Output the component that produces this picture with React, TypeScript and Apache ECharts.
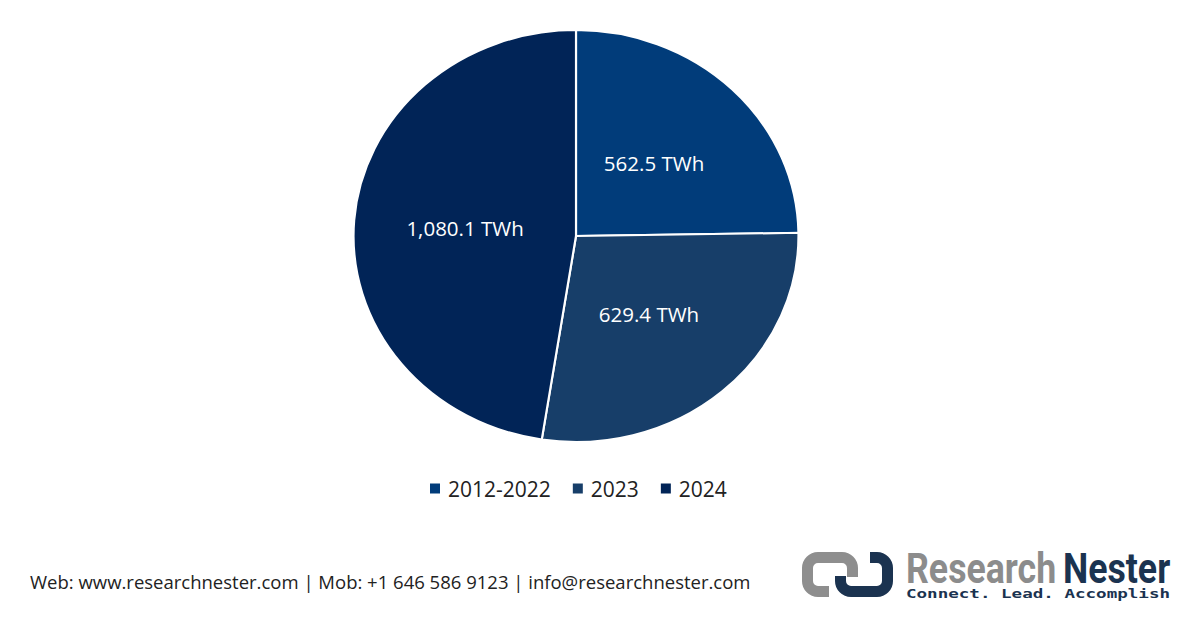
import { useEffect, useRef } from "react";
import * as echarts from "echarts";

const categories = ["2012-2022", "2023", "2024"];
const values = [562.5, 629.4, 1080.1];
const colors = ["#013C7A", "#173E69", "#012457"];
const unit = "TWh";
const footerText = "Web: www.researchnester.com | Mob: +1 646 586 9123 | info@researchnester.com";

// logo marks, drawn as stroked outlines
const greyMark =
  "M50.5 25 L50.5 16 A10.5 10.5 0 0 0 40 5.5 L16 5.5 A10.5 10.5 0 0 0 5.5 16 L5.5 29 A10.5 10.5 0 0 0 16 39.5 L27 39.5";
const navyMark =
  "M68 5.5 L75 5.5 A10.5 10.5 0 0 1 85.5 16 L85.5 29 A10.5 10.5 0 0 1 75 39.5 L49 39.5 A10.5 10.5 0 0 1 38.5 29 L38.5 24";

echarts.graphic.registerShape("rnGrey", echarts.graphic.extendPath(greyMark, {}));
echarts.graphic.registerShape("rnNavy", echarts.graphic.extendPath(navyMark, {}));

const fmt = (v: number) =>
  `${v.toLocaleString("en-US", { minimumFractionDigits: 1, maximumFractionDigits: 1 })} ${unit}`;

const App = () => {
  const chartRef = useRef<HTMLDivElement>(null);

  useEffect(() => {
    const chart = echarts.init(chartRef.current!, null, { renderer: "svg" });
    const total = values.reduce((a, b) => a + b, 0);
    const cx = 576;
    const cy = 236;
    const R = 206;
    const sx = 1.08;

    const series = categories.map((name, i) => {
      const before = values.slice(0, i).reduce((a, b) => a + b, 0);
      return {
        type: "custom",
        name,
        coordinateSystem: "none",
        itemStyle: { color: colors[i] },
        data: [[values[i]]],
        renderItem: (_params: any, api: any) => {
          const v = api.value(0);
          const start = -Math.PI / 2 + (before / total) * Math.PI * 2;
          const end = start + (v / total) * Math.PI * 2;
          const mid = (start + end) / 2;
          const lr = R * 0.5;
          return {
            type: "group",
            children: [
              {
                type: "sector",
                x: cx,
                y: cy,
                scaleX: sx,
                shape: { cx: 0, cy: 0, r0: 0, r: R, startAngle: start, endAngle: end, clockwise: true },
                style: { fill: colors[i], stroke: "#ffffff", lineWidth: 2, strokeNoScale: true },
              },
              {
                type: "text",
                x: cx + Math.cos(mid) * lr * sx,
                y: cy + Math.sin(mid) * lr,
                style: {
                  text: fmt(v),
                  fill: "#ffffff",
                  font: "20.5px 'Open Sans'",
                  align: "center",
                  verticalAlign: "middle",
                },
              },
            ],
          };
        },
      };
    });

    chart.setOption({
      animation: false,
      backgroundColor: "#ffffff",
      legend: {
        data: categories,
        top: 473,
        left: 425,
        icon: "rect",
        itemWidth: 10,
        itemHeight: 10,
        itemGap: 22,
        textStyle: { fontSize: 21, color: "#222222", fontFamily: "Open Sans", padding: [0, 0, 0, 3] },
      },
      series,
      graphic: [
        {
          type: "text",
          x: 30,
          y: 581,
          style: {
            text: footerText,
            fill: "#222222",
            font: "18.5px 'Open Sans'",
            verticalAlign: "middle",
          },
        },
        {
          type: "rnGrey",
          x: 802,
          y: 552,
          style: { fill: "none", stroke: "#8E8E8E", lineWidth: 11 },
        },
        {
          type: "rnNavy",
          x: 802,
          y: 552,
          style: { fill: "none", stroke: "#1B3350", lineWidth: 11 },
        },
        {
          type: "text",
          x: 906,
          y: 569,
          scaleX: 0.85,
          style: { text: "Research", fill: "#8C8C8C", font: "bold 42px Roboto", verticalAlign: "middle" },
        },
        {
          type: "text",
          x: 1063,
          y: 569,
          scaleX: 0.85,
          style: { text: "Nester", fill: "#1B3350", font: "bold 42px Roboto", verticalAlign: "middle" },
        },
        {
          type: "text",
          x: 906,
          y: 594,
          scaleX: 1.35,
          style: {
            text: "Connect. Lead. Accomplish",
            fill: "#1B3350",
            font: "bold 13px 'DejaVu Sans Mono'",
            verticalAlign: "middle",
          },
        },
      ],
    });

    return () => {
      chart.dispose();
    };
  }, []);

  return (
    <div
      ref={chartRef}
      style={{ position: "absolute", left: 0, top: 0, width: 1200, height: 628 }}
    />
  );
};

export default App;
